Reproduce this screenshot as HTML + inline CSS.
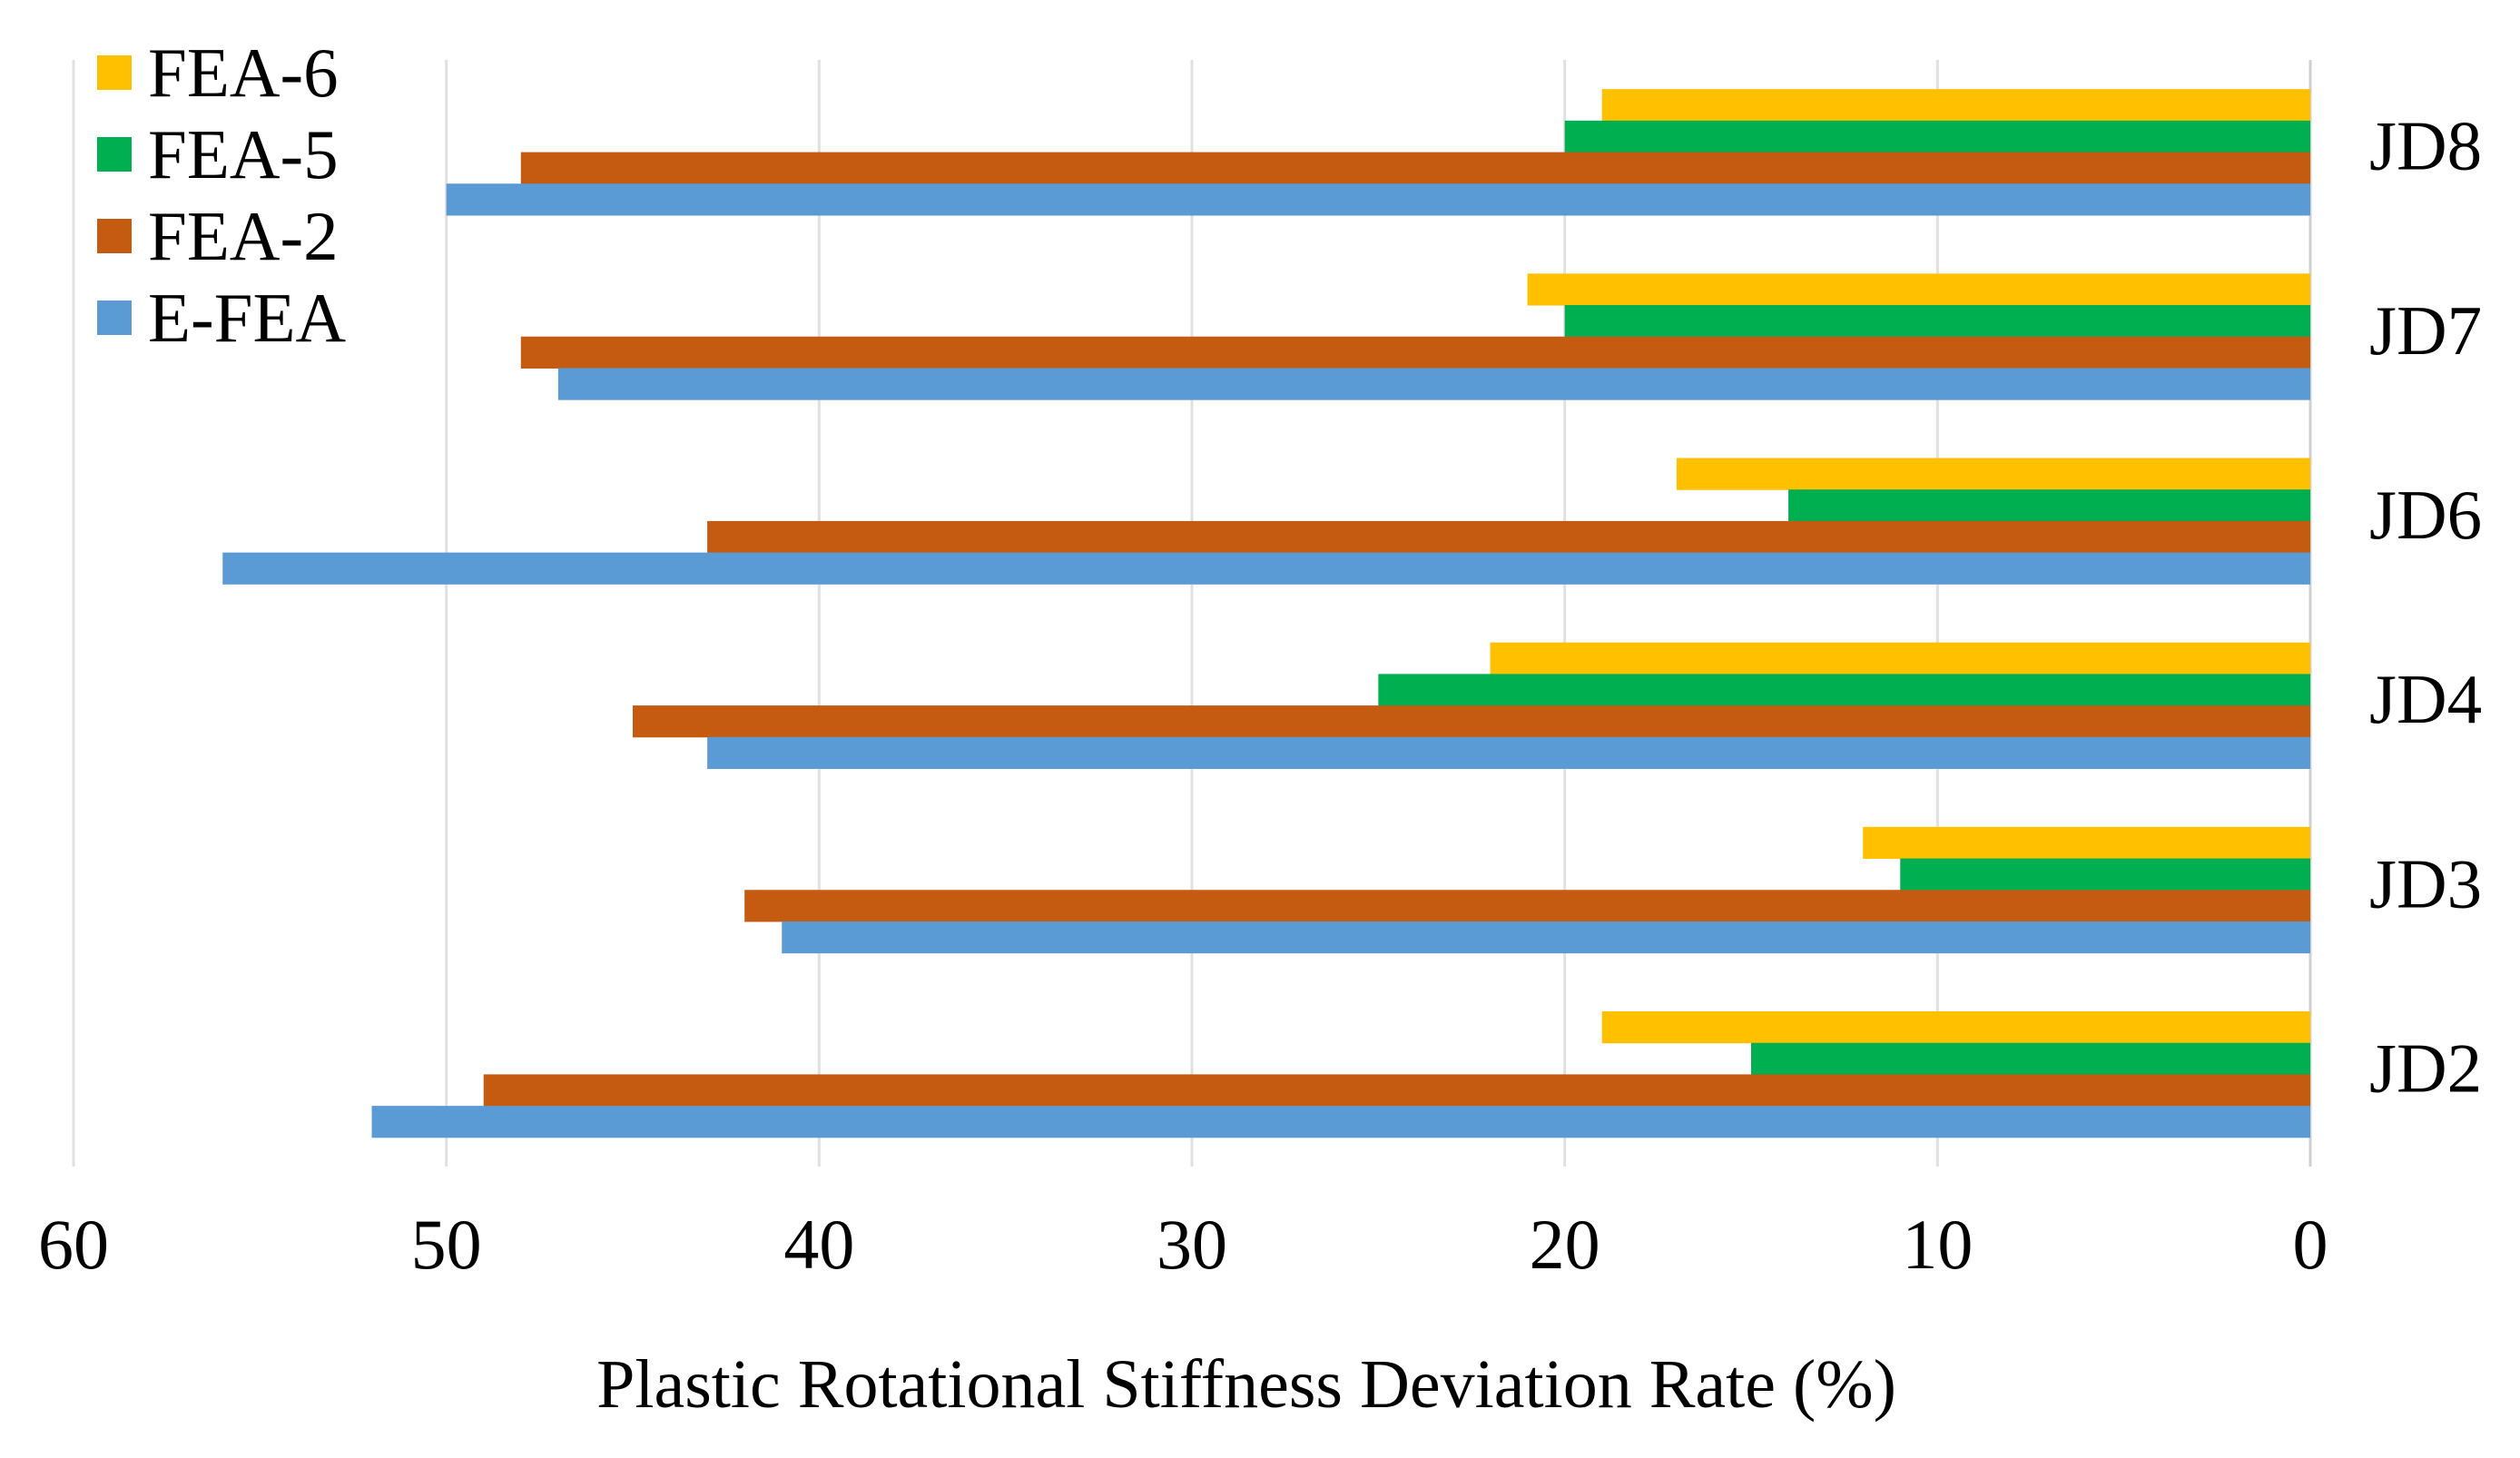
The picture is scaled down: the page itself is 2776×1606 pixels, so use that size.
<!DOCTYPE html>
<html><head><meta charset="utf-8"><style>
html,body{margin:0;padding:0;background:#fff;}
svg{display:block;font-family:"Liberation Serif",serif;}
</style></head><body>
<svg id="chart" width="2776" height="1606" viewBox="0 0 2776 1606" xmlns="http://www.w3.org/2000/svg">
<g id="grid"></g>
<g id="bars"></g>
<g id="xticks"></g>
<g id="ycats"></g>
<g id="legend"></g>
<text x="1373" y="1550" font-size="76" text-anchor="middle" fill="#000">Plastic Rotational Stiffness Deviation Rate (%)</text>
</svg>
<script>
const categories = ["JD8","JD7","JD6","JD4","JD3","JD2"];
const seriesNames = ["FEA-6","FEA-5","FEA-2","E-FEA"];
const fea6 = [19,21,17,22,12,19];
const fea5 = [20,20,14,25,11,15];
const fea2 = [48,48,43,45,42,49];
const efea = [50,47,56,43,41,52];
const tickValues = [60,50,40,30,20,10,0];
const colors = ["#FFC000","#00B050","#C55A11","#5B9BD5"];
const series = [fea6,fea5,fea2,efea];

const NS="http://www.w3.org/2000/svg";
const x0=2545, pxPerUnit=(2545-81)/60, plotTop=66, plotBottom=1285;
const band=(plotBottom-plotTop)/categories.length, barH=34.7, groupPad=(band-4*barH)/2;
function xs(v){return x0-v*pxPerUnit;}
function ys(i){return plotTop+i*band;}
function mk(tag,attrs,parent){const e=document.createElementNS(NS,tag);for(const k in attrs)e.setAttribute(k,attrs[k]);parent.appendChild(e);return e;}

const grid=document.getElementById('grid');
const xticks=document.getElementById('xticks');
tickValues.forEach(t=>{
  const l=mk('line',{x1:xs(t),x2:xs(t),y1:plotTop,y2:plotBottom,stroke:t===0?'#d0d0d0':'#e0e0e0','stroke-width':3},grid);
  
  
  const tx=mk('text',{x:xs(t),y:1397,'font-size':78,'text-anchor':'middle',fill:'#000'},xticks);
  tx.textContent=t;
  
  
});

const bars=document.getElementById('bars');
const ycats=document.getElementById('ycats');
categories.forEach((c,i)=>{
  series.forEach((s,j)=>{
    const y=ys(i)+groupPad+j*barH;
    const r=mk('rect',{x:xs(s[i]),y:y,width:xs(0)-xs(s[i]),height:barH+0.5,fill:colors[j]},bars);
    
    
  });
  const t=mk('text',{x:2610,y:ys(i)+band/2+19,'font-size':77,fill:'#000'},ycats);
  t.textContent=c;
  
  
});

const legend=document.getElementById('legend');
seriesNames.forEach((n,j)=>{
  const cy=80+j*90;
  const g=mk('g',{},legend);
  
  
  mk('rect',{x:107,y:cy-19,width:38,height:38,fill:colors[j]},g);
  const t=mk('text',{x:163,y:cy+26,'font-size':77,fill:'#000'},g);
  t.textContent=n;
});
</script>
</body></html>
